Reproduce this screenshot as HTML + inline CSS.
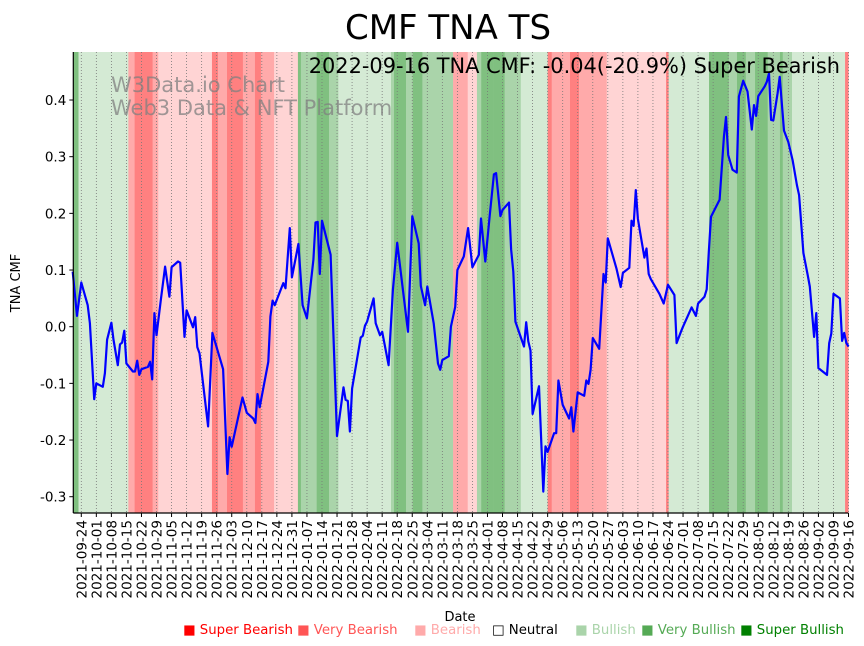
<!DOCTYPE html>
<html><head><meta charset="utf-8"><style>
html,body{margin:0;padding:0;background:#fff;}
svg{display:block;font-family:"DejaVu Sans","Liberation Sans",sans-serif;}
</style></head><body>
<svg id="chart" width="864" height="646" viewBox="0 0 864 646" xmlns="http://www.w3.org/2000/svg">
<g id="bands"></g>
<g id="grid"></g>
<text x="111" y="92" font-size="21" fill="#808080" fill-opacity="0.75">W3Data.io Chart</text>
<text x="111" y="115" font-size="21" fill="#808080" fill-opacity="0.75">Web3 Data &amp; NFT Platform</text>
<g id="line"></g>
<g id="axes"></g>
<text x="448" y="39" font-size="34" text-anchor="middle" fill="#000">CMF TNA TS</text>
<text x="840" y="73" font-size="20.9" text-anchor="end" fill="#000">2022-09-16 TNA CMF: -0.04(-20.9%) Super Bearish</text>
<text x="20" y="283" font-size="13" text-anchor="middle" transform="rotate(-90 20 283)">TNA CMF</text>
<text x="460" y="621" font-size="13" text-anchor="middle">Date</text>
<g id="legend" font-size="13.3">
<text x="183" y="634" fill="#ff0000">■ Super Bearish</text>
<text x="297" y="634" fill="#ff5555">■ Very Bearish</text>
<text x="414" y="634" fill="#ffaaaa">■ Bearish</text>
<text x="492" y="634" fill="#000">□ Neutral</text>
<text x="575" y="634" fill="#aad4aa">■ Bullish</text>
<text x="641" y="634" fill="#55aa55">■ Very Bullish</text>
<text x="740" y="634" fill="#008000">■ Super Bullish</text>
</g>
</svg>
<script>
// Data: day offsets relative to 2021-09-24
const days = [-4,-2,0,3,4,6,7,10,11,12,14,15,17,18,19,20,21,24,25,26,27,28,31,32,33,34,35,37,39,41,42,45,46,48,49,52,53,54,55,59,61,66,68,69,70,75,77,80,81,82,83,87,88,89,90,94,95,97,98,101,103,105,108,109,110,111,112,116,119,122,123,124,125,126,130,131,132,133,136,137,139,140,143,145,147,152,154,157,158,160,161,164,166,167,168,171,172,174,175,178,180,182,185,186,188,190,192,193,195,196,199,200,201,202,206,207,208,209,210,213,215,216,217,220,221,222,224,227,228,229,231,234,235,236,237,238,241,243,244,245,249,251,252,255,256,257,258,259,262,263,264,265,269,271,273,276,277,279,280,284,286,287,290,291,292,293,297,299,300,301,303,305,306,308,310,312,313,314,315,318,319,320,321,322,324,325,327,329,331,333,334,336,338,339,341,342,343,347,348,349,350,353,354,355,356,357];
const cmfValues = [0.097,0.019,0.078,0.038,0.006,-0.128,-0.100,-0.106,-0.082,-0.023,0.007,-0.023,-0.068,-0.031,-0.028,-0.007,-0.065,-0.079,-0.079,-0.060,-0.085,-0.075,-0.071,-0.062,-0.093,0.024,-0.015,0.047,0.106,0.053,0.105,0.115,0.113,-0.018,0.029,-0.001,0.017,-0.036,-0.047,-0.176,-0.011,-0.075,-0.260,-0.195,-0.212,-0.125,-0.152,-0.162,-0.170,-0.119,-0.142,-0.062,0.018,0.046,0.038,0.077,0.068,0.174,0.087,0.146,0.038,0.015,0.118,0.184,0.185,0.093,0.187,0.127,-0.193,-0.107,-0.129,-0.131,-0.185,-0.109,-0.019,-0.016,0.002,0.009,0.050,0.006,-0.015,-0.009,-0.068,0.065,0.148,-0.009,0.195,0.147,0.072,0.038,0.071,0.006,-0.065,-0.076,-0.059,-0.052,0.000,0.035,0.100,0.124,0.174,0.105,0.127,0.191,0.115,0.194,0.269,0.271,0.195,0.206,0.219,0.137,0.097,0.009,-0.035,0.008,-0.026,-0.042,-0.154,-0.105,-0.291,-0.211,-0.221,-0.188,-0.188,-0.095,-0.138,-0.162,-0.142,-0.185,-0.116,-0.122,-0.095,-0.101,-0.076,-0.020,-0.039,0.093,0.078,0.156,0.103,0.070,0.095,0.104,0.187,0.178,0.241,0.190,0.122,0.138,0.093,0.084,0.058,0.041,0.074,0.056,-0.029,-0.009,0.000,0.034,0.019,0.041,0.053,0.066,0.132,0.194,0.224,0.335,0.370,0.303,0.277,0.272,0.406,0.434,0.415,0.348,0.391,0.372,0.407,0.424,0.432,0.447,0.365,0.364,0.412,0.441,0.346,0.326,0.294,0.250,0.232,0.130,0.091,0.071,-0.018,0.024,-0.073,-0.085,-0.029,-0.012,0.058,0.050,-0.025,-0.011,-0.029,-0.035];
// Sentiment bands: start day and category (0 super bearish .. 6 super bullish)
const bandStart = [-3.7,-1.3,21.9,24.8,33.2,35.8,60.8,63.6,67.8,75.2,80.8,83.6,89.7,100.8,102.2,109.5,115.3,119.6,144.1,145.5,151.1,154.2,158.7,173.0,179.8,184.1,186.1,191.6,197.0,204.5,217.0,218.9,227.4,231.6,244.5,272.1,273.3,292.1,301.3,305.1,309.2,313.5,319.4,325.1,326.4,330.7,355.4];
const bandCat = [6,4,1,0,1,2,0,1,0,1,0,1,2,6,5,6,5,4,5,6,5,6,5,1,2,5,6,6,5,4,0,1,0,1,2,0,4,6,5,6,5,6,5,6,5,4,0];
const bandEnd = 356.9;
const yTicks = [-0.3,-0.2,-0.1,0.0,0.1,0.2,0.3,0.4];
const xTickLabels = ["2021-09-24","2021-10-01","2021-10-08","2021-10-15","2021-10-22","2021-10-29","2021-11-05","2021-11-12","2021-11-19","2021-11-26","2021-12-03","2021-12-10","2021-12-17","2021-12-24","2021-12-31","2022-01-07","2022-01-14","2022-01-21","2022-01-28","2022-02-04","2022-02-11","2022-02-18","2022-02-25","2022-03-04","2022-03-11","2022-03-18","2022-03-25","2022-04-01","2022-04-08","2022-04-15","2022-04-22","2022-04-29","2022-05-06","2022-05-13","2022-05-20","2022-05-27","2022-06-03","2022-06-10","2022-06-17","2022-06-24","2022-07-01","2022-07-08","2022-07-15","2022-07-22","2022-07-29","2022-08-05","2022-08-12","2022-08-19","2022-08-26","2022-09-02","2022-09-09","2022-09-16"];

const NS = "http://www.w3.org/2000/svg";
const L = 73.3, R = 848.3, T = 52, B = 513;
const D0 = -3.72, D1 = 356.9;
function xs(d){ return L + (d - D0) * (R - L) / (D1 - D0); }
function ys(v){ return 326.7 - v * 566.7; }
function mk(tag, attrs, parent){ const e = document.createElementNS(NS, tag); for (const k in attrs) e.setAttribute(k, attrs[k]); parent.appendChild(e); return e; }
const bandColors = ["#ff8080","#ffaaaa","#ffd4d4","#ffffff","#d4ead4","#aad4aa","#80c080"];

const gB = document.getElementById('bands');
for (let i = 0; i < bandStart.length; i++) {
  const s = bandStart[i], e = (i + 1 < bandStart.length) ? bandStart[i + 1] : bandEnd;
  const r = mk('rect', {x: xs(s), y: T, width: Math.max(0, xs(e) - xs(s)) + 0.3, height: B - T, fill: bandColors[bandCat[i]]}, gB);
  
  
}
const gG = document.getElementById('grid');
const gA = document.getElementById('axes');
for (let i = 0; i < xTickLabels.length; i++) {
  const x = xs(i * 7);
  const gl = mk('line', {x1: x, x2: x, y1: T, y2: B, stroke: '#777', 'stroke-width': 0.8, 'stroke-dasharray': '1,2'}, gG);
  
  
  const tk = mk('line', {x1: x, x2: x, y1: B, y2: B + 4, stroke: '#000', 'stroke-width': 1}, gA);
  
  
  const t = mk('text', {x: x + 5, y: B + 7, 'font-size': 13.5, 'text-anchor': 'end', transform: `rotate(-90 ${x + 5} ${B + 7})`}, gA);
  t.textContent = xTickLabels[i];
  
  
}
for (const v of yTicks) {
  const y = ys(v);
  const tk = mk('line', {x1: L - 4, x2: L, y1: y, y2: y, stroke: '#000', 'stroke-width': 1}, gA);
  
  
  const t = mk('text', {x: L - 7, y: y + 5, 'font-size': 13.5, 'text-anchor': 'end'}, gA);
  t.textContent = v.toFixed(1);
  
  
}
const ax = mk('line', {x1: L, x2: L, y1: T, y2: B, stroke: '#000', 'stroke-width': 1.2}, gA);


const bx = mk('line', {x1: L, x2: R, y1: B, y2: B, stroke: '#000', 'stroke-width': 1.2}, gA);



const pts = days.map((d, i) => xs(d).toFixed(1) + ',' + ys(cmfValues[i]).toFixed(1)).join(' ');
const pl = mk('polyline', {points: pts, fill: 'none', stroke: '#0000ff', 'stroke-width': 2.2, 'stroke-linejoin': 'round'}, document.getElementById('line'));


</script>
</body></html>
